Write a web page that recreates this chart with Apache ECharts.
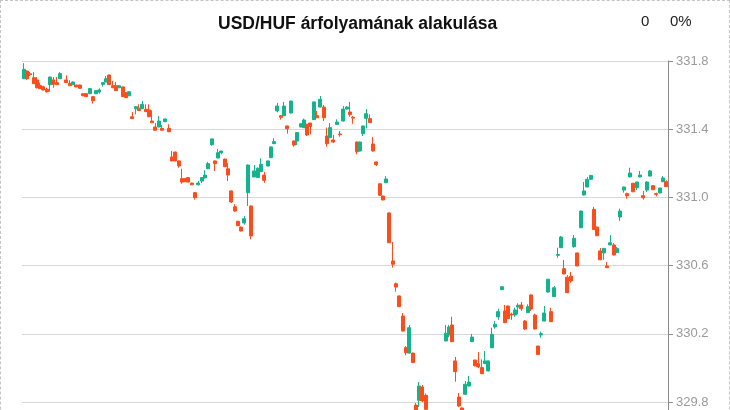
<!DOCTYPE html>
<html>
<head>
<meta charset="utf-8">
<script src="https://cdn.jsdelivr.net/npm/echarts@6/dist/echarts.min.js"></script>
<style>
html,body{margin:0;padding:0;overflow:hidden;background:#fff;}
#chart{width:730px;height:520px;box-sizing:border-box;border:1px dashed #c4c4c4;}
</style>
</head>
<body>
<div id="chart"></div>
<script>
const titleText = 'USD/HUF árfolyamának alakulása';
const changeText = '0';
const changePctText = '0%';
const yTicks = [329.4, 329.8, 330.2, 330.6, 331.0, 331.4, 331.8];

const opens = [
331.696,331.741,331.725,331.702,331.689,331.657,331.649,331.634,331.661,331.689,
331.673,331.696,null,331.689,331.669,331.661,331.659,331.659,331.608,331.608,
331.608,331.591,331.608,331.618,331.663,331.677,331.718,331.655,331.655,331.643,
331.648,331.614,331.596,331.473,331.520,331.523,331.520,331.517,331.513,331.448,
331.413,331.413,331.405,331.444,331.405,331.237,331.266,331.214,331.110,331.110,
331.116,331.084,331.028,331.074,331.096,331.114,331.168,331.309,331.214,331.231,
331.262,331.225,331.168,331.038,330.945,330.860,330.826,330.850,331.028,330.950,
331.120,331.116,331.151,331.131,331.184,331.233,331.315,331.507,331.479,331.479,
331.419,331.495,331.331,331.331,331.413,331.409,331.429,331.436,331.456,331.479,
331.530,331.530,331.360,331.350,331.337,331.427,331.372,331.448,331.518,331.501,
331.470,331.325,331.272,331.374,331.464,331.462,331.313,331.208,331.080,331.008,
331.086,330.909,330.627,330.494,330.422,330.304,330.118,330.087,330.087,329.782,
329.810,329.888,329.839,329.730,329.700,329.660,329.700,329.740,330.158,330.193,
330.252,330.041,329.829,329.765,329.845,329.894,330.154,330.046,330.025,330.002,
330.025,329.982,330.118,330.240,330.299,330.459,330.334,330.363,330.315,330.310,
330.357,330.369,330.275,330.324,330.428,330.310,330.128,330.193,330.275,330.445,
330.330,330.418,330.660,330.705,330.582,330.532,330.538,330.711,330.674,330.822,
331.014,331.061,331.106,330.930,330.826,330.686,330.674,330.598,330.721,330.721,
330.676,330.885,331.043,331.022,331.120,331.083,331.057,331.120,331.010,331.043,
331.125,331.069,331.022,331.026,331.092,331.092];

const closes = [
331.751,331.696,331.720,331.667,331.643,331.638,331.630,331.620,331.706,331.663,
331.661,331.726,null,331.673,331.655,331.677,331.648,331.640,331.596,331.591,
331.638,331.567,331.626,331.630,331.673,331.696,331.661,331.643,331.626,331.655,
331.591,331.585,331.620,331.462,331.532,331.509,331.546,331.503,331.473,331.438,
331.394,331.448,331.394,331.460,331.385,331.214,331.214,331.184,331.090,331.092,
331.090,331.074,330.998,331.084,331.116,331.131,331.198,331.343,331.198,331.262,
331.272,331.180,331.131,330.973,330.920,330.834,330.803,330.875,331.190,330.774,
331.155,331.171,331.194,331.100,331.214,331.296,331.327,331.536,331.470,331.536,
331.403,331.565,331.307,331.380,331.432,331.454,331.366,331.415,331.560,331.467,
331.575,331.467,331.315,331.409,331.325,331.442,331.368,331.518,331.530,331.485,
331.465,331.268,331.325,331.419,331.491,331.438,331.272,331.192,331.012,330.985,
331.108,330.734,330.608,330.474,330.359,330.216,330.089,330.236,330.031,329.740,
329.894,329.806,329.757,329.700,329.660,329.700,329.730,329.745,330.203,330.240,
330.154,329.978,329.777,329.740,329.904,329.917,330.181,330.012,330.006,329.966,
330.041,330.041,330.197,330.256,330.330,330.476,330.265,330.289,330.310,330.340,
330.367,330.347,330.228,330.359,330.345,330.228,330.078,330.201,330.322,330.520,
330.271,330.470,330.665,330.768,330.551,330.441,330.510,330.760,330.598,330.920,
331.038,331.106,331.129,330.811,330.775,330.634,330.701,330.588,330.734,330.662,
330.701,330.920,331.061,331.010,331.143,331.033,331.090,331.131,330.998,331.090,
331.155,331.045,331.018,331.055,331.114,331.063];

const lows = [
331.694,331.689,331.712,331.665,331.640,331.636,331.628,331.614,331.620,331.643,
331.659,331.694,null,331.671,331.653,331.659,331.646,331.638,331.594,331.589,
331.606,331.550,331.606,331.608,331.650,331.675,331.659,331.641,331.624,331.641,
331.589,331.583,331.594,331.460,331.487,331.507,331.518,331.501,331.471,331.436,
331.392,331.411,331.392,331.442,331.383,331.212,331.212,331.174,331.080,331.090,
331.088,331.072,330.987,331.069,331.084,331.112,331.166,331.303,331.155,331.229,
331.253,331.178,331.096,330.967,330.915,330.832,330.801,330.840,330.950,330.754,
331.118,331.114,331.149,331.086,331.182,331.231,331.313,331.499,331.456,331.477,
331.374,331.493,331.297,331.307,331.411,331.407,331.360,331.370,331.454,331.465,
331.528,331.448,331.297,331.348,331.319,331.425,331.356,331.446,331.516,331.473,
331.432,331.253,331.270,331.360,331.405,331.436,331.270,331.184,331.010,330.983,
331.084,330.732,330.588,330.447,330.357,330.214,330.074,330.085,330.029,329.730,
329.771,329.800,329.750,329.680,329.640,329.640,329.690,329.730,330.156,330.180,
330.152,329.919,329.770,329.730,329.843,329.892,330.152,330.010,329.998,329.964,
330.023,329.980,330.116,330.230,330.282,330.457,330.263,330.287,330.282,330.300,
330.314,330.334,330.222,330.322,330.334,330.226,330.076,330.177,330.273,330.441,
330.269,330.416,330.646,330.703,330.549,330.439,330.500,330.705,330.596,330.820,
331.012,331.059,331.104,330.809,330.773,330.632,330.634,330.586,330.719,330.660,
330.674,330.862,331.028,330.992,331.118,331.031,331.043,331.118,330.987,331.032,
331.123,331.043,331.006,331.024,331.090,331.061];

const highs = [
331.787,331.745,331.736,331.735,331.706,331.673,331.655,331.643,331.708,331.706,
331.706,331.735,null,331.716,331.687,331.680,331.661,331.661,331.610,331.610,
331.640,331.593,331.628,331.640,331.676,331.712,331.720,331.683,331.677,331.657,
331.650,331.616,331.622,331.501,331.534,331.546,331.565,331.546,331.546,331.511,
331.436,331.477,331.425,331.462,331.429,331.272,331.268,331.216,331.168,331.112,
331.118,331.086,331.030,331.096,331.118,331.160,331.208,331.345,331.216,331.284,
331.274,331.227,331.201,331.040,330.960,330.862,330.828,330.890,331.192,330.952,
331.190,331.175,331.229,331.149,331.216,331.298,331.347,331.554,331.481,331.560,
331.421,331.567,331.333,331.382,331.434,331.462,331.431,331.438,331.562,331.507,
331.595,331.542,331.409,331.436,331.366,331.458,331.389,331.536,331.536,331.560,
331.477,331.327,331.327,331.421,331.518,331.487,331.354,331.210,331.082,331.010,
331.125,330.911,330.738,330.500,330.424,330.322,330.128,330.252,330.089,329.794,
329.917,329.900,329.850,329.740,329.720,329.720,329.740,329.752,330.252,330.252,
330.300,330.064,329.853,329.767,329.923,329.953,330.199,330.048,330.093,330.050,
330.099,330.043,330.236,330.275,330.347,330.478,330.369,330.365,330.324,330.353,
330.379,330.387,330.281,330.373,330.430,330.318,330.130,330.213,330.363,330.522,
330.353,330.480,330.705,330.774,330.633,330.544,330.562,330.779,330.676,330.922,
331.090,331.120,331.131,330.944,330.828,330.703,330.703,330.621,330.779,330.733,
330.709,330.934,331.063,331.028,331.174,331.085,331.092,331.155,331.038,331.096,
331.161,331.071,331.028,331.057,331.125,331.100];

const categories = opens.map((_, i) => String(i + 1));
const kData = opens.map((o, i) => o === null ? '-' : [o, closes[i], lows[i], highs[i]]);

const chart = echarts.init(document.getElementById('chart'), null, {renderer: 'canvas'});
chart.setOption({
  animation: false,
  backgroundColor: '#ffffff',
  title: {
    text: titleText,
    left: 212,
    top: 9,
    textStyle: {fontFamily: 'Liberation Sans, Arial, sans-serif', fontSize: 17.5, fontWeight: 'bold', color: '#111'}
  },
  graphic: [
    {type: 'text', left: 640, top: 13, style: {text: changeText, font: '15px "Liberation Sans", Arial, sans-serif', fill: '#222'}},
    {type: 'text', left: 669, top: 13, style: {text: changePctText, font: '15px "Liberation Sans", Arial, sans-serif', fill: '#222'}}
  ],
  grid: {left: 21, right: 61, top: 60, height: 409.2},
  xAxis: {
    type: 'category',
    data: categories,
    boundaryGap: true,
    show: false
  },
  yAxis: {
    type: 'value',
    position: 'right',
    min: yTicks[0],
    max: yTicks[yTicks.length - 1],
    interval: 0.4,
    scale: true,
    axisLine: {show: true, lineStyle: {color: '#8a8a8a', width: 1}},
    axisTick: {show: true, length: 5, lineStyle: {color: '#8a8a8a'}},
    axisLabel: {
      color: '#9a9a9a', fontSize: 13, margin: 8,
      fontFamily: 'Liberation Sans, Arial, sans-serif',
      formatter: v => v.toFixed(1)
    },
    splitLine: {show: true, lineStyle: {color: '#d6d9dc', width: 1}}
  },
  series: [{
    type: 'candlestick',
    data: kData,
    barWidth: 3.5,
    itemStyle: {
      color: '#14b38e',
      color0: '#fd4d1c',
      borderColor: '#14b38e',
      borderColor0: '#fd4d1c',
      borderWidth: 1
    }
  }]
});
</script>
</body>
</html>
